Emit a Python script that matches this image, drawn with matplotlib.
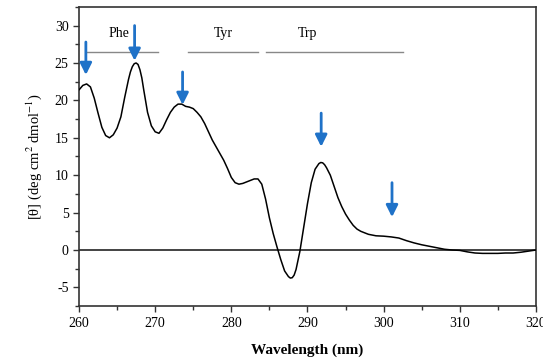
import matplotlib
matplotlib.use("Agg")
import matplotlib.pyplot as plt
from matplotlib.ticker import MultipleLocator

plt.rcParams['font.family'] = ['Liberation Serif', 'DejaVu Serif']
plt.rcParams['mathtext.fontset'] = 'stix'
plt.rcParams['axes.unicode_minus'] = False

# --- data ---
wavelength = [260, 260.5, 261, 261.5, 262, 262.5, 263, 263.5, 264, 264.5, 265, 265.5,
              266, 266.5, 266.75, 267, 267.25, 267.5, 267.75, 268, 268.25, 268.5, 269,
              269.5, 270, 270.5, 271, 271.5,
              272, 272.5, 273, 273.5, 274, 274.5, 275, 275.5, 276, 276.5, 277, 277.5,
              278, 278.5, 279, 279.5, 280, 280.5, 281, 281.5, 282, 282.5, 283, 283.5,
              284, 284.5, 285, 285.5, 286, 286.5, 287, 287.5, 287.75, 288, 288.25, 288.5,
              289, 289.5, 290, 290.5, 291, 291.5, 291.75, 292, 292.25, 292.5, 293, 293.5,
              294, 294.5, 295, 295.5,
              296, 296.5, 297, 298, 299, 300, 301, 302, 303, 304, 305, 306, 307, 308,
              309, 310, 311, 312, 313, 314, 315, 316, 317, 318, 319, 320]
theta = [21.4, 22.0, 22.2, 21.8, 20.3, 18.3, 16.4, 15.3, 15.0, 15.4, 16.3, 17.8,
         20.4, 22.8, 23.8, 24.5, 24.9, 25.0, 24.8, 24.1, 23.0, 21.4, 18.4,
         16.6, 15.8, 15.6, 16.3, 17.4,
         18.4, 19.1, 19.5, 19.5, 19.2, 19.1, 18.9, 18.4, 17.8, 16.9, 15.8, 14.7,
         13.8, 12.9, 12.0, 10.9, 9.7, 9.0, 8.8, 8.9, 9.1, 9.3, 9.5, 9.5,
         8.8, 6.8, 4.3, 2.2, 0.4, -1.3, -2.8, -3.55, -3.75, -3.7, -3.35, -2.6,
         -0.2, 3.0, 6.2, 9.0, 10.8, 11.55, 11.7, 11.65, 11.4, 11.0, 10.0, 8.5,
         7.0, 5.8, 4.8, 4.0,
         3.3, 2.8, 2.5, 2.1, 1.9, 1.85, 1.75, 1.6, 1.25, 0.95, 0.7, 0.5, 0.3, 0.1,
         0.0, -0.05, -0.25, -0.4, -0.45, -0.45, -0.45, -0.4, -0.4, -0.3, -0.15, 0.0]

# residue bands: label, start, end, label x
band_names = ['Phe', 'Tyr', 'Trp']
band_start = [261.0, 274.3, 284.5]
band_end = [270.4, 283.5, 302.6]
band_text_x = [265.2, 278.9, 290.0]

# arrows: x position, tail y, tip y
arrow_x = [260.9, 267.3, 273.6, 291.8, 301.1]
arrow_tail = [27.8, 30.0, 23.8, 18.3, 9.0]
arrow_tip = [23.4, 25.3, 19.4, 13.8, 4.4]

fig = plt.figure(figsize=(5.43, 3.61), dpi=100)
ax = fig.add_axes([0.1455, 0.152, 0.8415, 0.829])

ax.axhline(0, color='#222222', lw=1.2, zorder=1)
ax.plot(wavelength, theta, color='black', lw=1.1, zorder=3,
        solid_joinstyle='round', solid_capstyle='round')

for name, s, e, tx in zip(band_names, band_start, band_end, band_text_x):
    ax.plot([s, e], [26.5, 26.5], color='#888888', lw=1.0, zorder=2)
    ax.text(tx, 29.0, name, ha='center', va='center', fontsize=10)

for x, y0, y1 in zip(arrow_x, arrow_tail, arrow_tip):
    ax.annotate('', xy=(x, y1), xytext=(x, y0),
                arrowprops=dict(arrowstyle='-|>,head_width=0.35,head_length=0.7',
                                color='#1f72c8', lw=2, shrinkA=0, shrinkB=0),
                zorder=4)

ax.set_xlim(260, 320)
ax.set_ylim(-7.5, 32.5)
ax.xaxis.set_major_locator(MultipleLocator(10))
ax.xaxis.set_minor_locator(MultipleLocator(5))
ax.yaxis.set_major_locator(MultipleLocator(5))
ax.yaxis.set_minor_locator(MultipleLocator(2.5))
ax.tick_params(which='both', direction='out', top=False, right=False,
               labelsize=10, width=1.0, color='#333333')
ax.tick_params(which='major', length=4)
ax.tick_params(which='minor', length=3)
for sp in ax.spines.values():
    sp.set_linewidth(1.2)
    sp.set_color('#333333')

ax.set_xlabel('Wavelength (nm)', fontsize=11, fontweight='bold', labelpad=10)
ax.set_ylabel('[\u03b8] (deg cm$^{2}$ dmol$^{-1}$)', fontsize=10.5, labelpad=8)

fig.savefig('out.png', dpi=100)
